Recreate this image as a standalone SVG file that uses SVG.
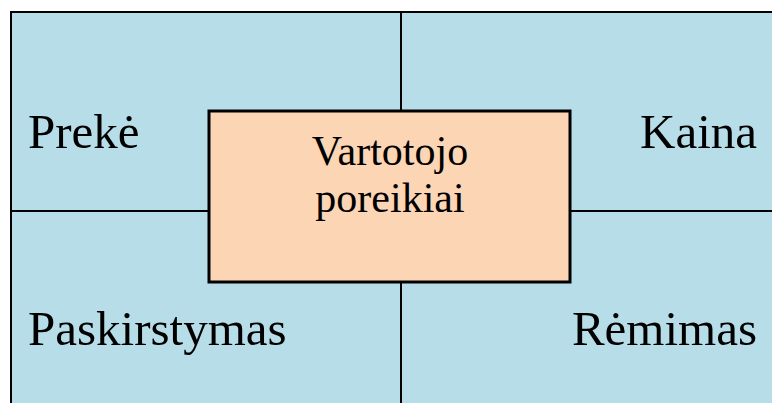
<svg xmlns="http://www.w3.org/2000/svg" width="772" height="403" viewBox="0 0 772 403">
  <style>
    .quad { fill: #B7DDE8; stroke: #000; stroke-width: 2; }
    .div { stroke: #000; stroke-width: 2; fill: none; }
    .core { fill: #FCD5B4; stroke: #000; stroke-width: 3; }
    .lbl { font-family: "Liberation Serif", "Times New Roman", serif; font-size: 49px; fill: #000; }
    .ctr { font-family: "Liberation Serif", "Times New Roman", serif; font-size: 42px; fill: #000; text-anchor: middle; }
  </style>
  <rect width="772" height="403" fill="#fff"/>
  <!-- four quadrants: outer frame runs past the right and bottom edges -->
  <g id="frame">
    <rect class="quad" x="11" y="12" width="780" height="420"/>
  </g>
  <g id="connectors">
    <line class="div" x1="401" y1="12" x2="401" y2="403"/>
    <line class="div" x1="11" y1="211" x2="772" y2="211"/>
  </g>
  <g id="preke"><text class="lbl" x="28" y="148">Prekė</text></g>
  <g id="kaina"><text class="lbl" x="757" y="148" text-anchor="end">Kaina</text></g>
  <g id="paskirstymas"><text class="lbl" x="28" y="345">Paskirstymas</text></g>
  <g id="remimas"><text class="lbl" x="757" y="345" text-anchor="end">Rėmimas</text></g>
  <g id="vartotojo-poreikiai">
    <rect class="core" x="209" y="111" width="361" height="171"/>
    <text class="ctr" x="390" y="165">Vartotojo</text>
    <text class="ctr" x="390" y="212">poreikiai</text>
  </g>
</svg>
